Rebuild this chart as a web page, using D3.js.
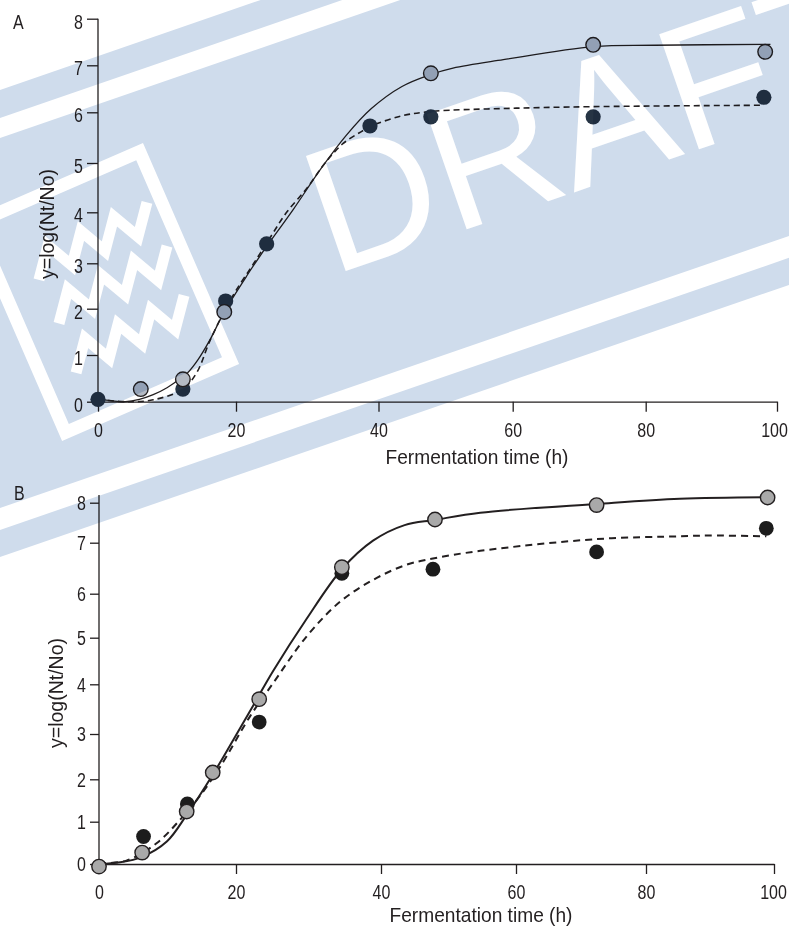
<!DOCTYPE html>
<html>
<head>
<meta charset="utf-8">
<script src="https://cdn.jsdelivr.net/npm/d3@7"></script>
<style>
  body { margin: 0; background: #fff; }
  svg text { font-family: 'Liberation Sans', Arial, sans-serif; fill: #231f20; }
</style>
</head>
<body>
<svg id="fig" width="789" height="928"></svg>
<script>
// ---- tick values (shared by both panels)
const timeTicks = [0, 20, 40, 60, 80, 100];
const logTicks  = [0, 1, 2, 3, 4, 5, 6, 7, 8];

// ---- panel A: measured points (h, log Nt/No)
const aGrayTime = [6.2, 12.3, 18.3, 47.8, 72.1, 98.2];
const aGrayLog  = [0.27, 0.48, 1.93, 6.83, 7.44, 7.29];
const aDarkTime = [0, 12.3, 18.5, 24.3, 38.8, 47.8, 72.1, 98];
const aDarkLog  = [0.05, 0.27, 2.17, 3.38, 5.73, 5.91, 5.91, 6.32];

// panel A: fitted curves
const aSolidTime = [0, 2, 4, 6, 8, 10, 12, 13, 14.5, 16.2, 18.3, 21.5, 24.3, 28, 32, 35.5, 39, 43.5, 47.7, 51.1, 58.6, 72.2, 81.3, 99];
const aSolidLog  = [0.06, 0.02, 0.0, 0.05, 0.15, 0.3, 0.5, 0.62, 0.9, 1.32, 1.93, 2.72, 3.33, 4.05, 4.9, 5.55, 6.08, 6.55, 6.8, 6.94, 7.12, 7.4, 7.43, 7.45];
const aDashTime  = [0, 4, 8, 12.3, 14.3, 16.2, 18.5, 20, 22.5, 25, 27, 30, 32.5, 35, 37.6, 39, 43.5, 48, 58.6, 72, 98];
const aDashLog   = [0.05, 0.0, 0.04, 0.27, 0.62, 1.3, 2.0, 2.4, 3.0, 3.55, 3.98, 4.5, 5.0, 5.38, 5.62, 5.73, 5.93, 6.02, 6.08, 6.12, 6.15];

// ---- panel B: measured points
const bGrayTime = [0, 6.3, 12.8, 16.6, 23.2, 34.6, 48, 72.4, 99];
const bGrayLog  = [-0.06, 0.27, 1.24, 2.15, 3.7, 6.52, 7.58, 7.94, 8.13];
const bDarkTime = [6.5, 12.9, 23.2, 34.6, 47.7, 72.4, 98.8];
const bDarkLog  = [0.65, 1.42, 3.24, 6.4, 6.48, 6.82, 7.36];

// panel B: fitted curves
const bSolidTime = [0, 3.1, 6.3, 9.9, 12.8, 16.6, 19.6, 22.4, 25.1, 29.7, 34.6, 38.9, 43.5, 48, 54.7, 72.4, 85.3, 99];
const bSolidLog  = [0.0, 0.04, 0.17, 0.53, 1.16, 2.1, 2.87, 3.58, 4.28, 5.42, 6.48, 7.05, 7.44, 7.57, 7.75, 7.97, 8.1, 8.14];
const bDashTime  = [0, 4, 8.4, 11.8, 14.7, 17.7, 22, 25.1, 29.7, 34.3, 38.9, 43.6, 47.7, 54.7, 72.4, 85.3, 90, 98.8];
const bDashLog   = [0.02, 0.08, 0.49, 1.04, 1.6, 2.28, 3.37, 4.02, 5.02, 5.81, 6.27, 6.56, 6.69, 6.84, 7.09, 7.16, 7.18, 7.16];

const xTitle = "Fermentation time (h)";
const yTitle = "y=log(Nt/No)";

// ---- layout: pixel positions of the printed ticks (the original axes are not evenly spaced)
const panels = [
  {
    label: "A", labelPos: [13, 29],
    xPix: [98, 236, 378.5, 512.7, 645.7, 777],
    yPix: [401.7, 355, 308.7, 263.3, 212.3, 163, 112.3, 65.3, 18.7],
    yTop: 18.7, yTickSize: 11, yLabelDy: "0.48em", lastDx: -3,
    xTitlePos: [477, 464], yTitlePos: [54, 224],
    gray: [aGrayTime, aGrayLog], dark: [aDarkTime, aDarkLog],
    solid: [aSolidTime, aSolidLog], dash: [aDashTime, aDashLog],
    solidW: 1.3, dashW: 1.6, dashArr: "6,4",
    grayFill: "#b4bac4", darkFill: "#263444", rGray: 7.3, rDark: 7.6
  },
  {
    label: "B", labelPos: [14, 500],
    xPix: [99, 236, 381, 516, 646, 774],
    yPix: [864, 821.7, 779.3, 734, 684.3, 637.7, 593.7, 542.7, 502.7],
    yTop: 495, yTickSize: 9, yLabelDy: "0.34em", lastDx: -1,
    xTitlePos: [481, 922], yTitlePos: [63, 693],
    gray: [bGrayTime, bGrayLog], dark: [bDarkTime, bDarkLog],
    solid: [bSolidTime, bSolidLog], dash: [bDashTime, bDashLog],
    solidW: 2, dashW: 2, dashArr: "7,5",
    grayFill: "#a9a9a9", darkFill: "#1c1c1c", rGray: 7.2, rDark: 7.4
  }
];

const svg = d3.select("#fig");
const ink = "#231f20";
const narrow = 0.8;   // the print uses a condensed face

function zipPts(pair) {
  return pair[0].map((t, i) => ({ t: t, v: pair[1][i] }));
}

function drawPanel(p) {
  const g = svg.append("g");
  const x = d3.scaleLinear().domain(timeTicks).range(p.xPix);
  const y = d3.scaleLinear().domain(logTicks).range(p.yPix);

  // x axis
  const xAxis = g.append("g")
    .attr("transform", `translate(0,${y(0)})`)
    .call(d3.axisBottom(x).tickValues(timeTicks).tickSize(10).tickPadding(11).tickSizeOuter(0));
  xAxis.select(".domain").attr("stroke", ink).attr("stroke-width", 1.3);
  xAxis.selectAll(".tick line").attr("stroke", ink).attr("stroke-width", 1.3);
  xAxis.selectAll(".tick text")
    .style("font-size", "20px").attr("fill", ink)
    .attr("x", d => d === 100 ? p.lastDx / narrow : 0)
    .attr("transform", `scale(${narrow},1)`);

  // y axis
  const yAxis = g.append("g")
    .attr("transform", `translate(${x(0)},0)`)
    .call(d3.axisLeft(y).tickValues(logTicks).tickSize(p.yTickSize).tickPadding(4).tickSizeOuter(0));
  yAxis.select(".domain").attr("d", `M0,${p.yTop}V${y(0)}`)
    .attr("stroke", ink).attr("stroke-width", 1.3);
  yAxis.selectAll(".tick line").attr("stroke", ink).attr("stroke-width", 1.3);
  yAxis.selectAll(".tick text")
    .style("font-size", "20px").attr("dy", p.yLabelDy).attr("fill", ink)
    .attr("x", -(p.yTickSize + 4) / narrow)
    .attr("transform", `scale(${narrow},1)`);

  // titles
  g.append("text")
    .attr("x", p.xTitlePos[0]).attr("y", p.xTitlePos[1])
    .attr("text-anchor", "middle")
    .attr("textLength", 183).attr("lengthAdjust", "spacingAndGlyphs")
    .style("font-size", "21px")
    .text(xTitle);
  g.append("text")
    .attr("transform", `translate(${p.yTitlePos[0]},${p.yTitlePos[1]}) rotate(-90)`)
    .attr("text-anchor", "middle")
    .attr("textLength", 110).attr("lengthAdjust", "spacingAndGlyphs")
    .style("font-size", "21px")
    .text(yTitle);
  g.append("text")
    .attr("x", p.labelPos[0]).attr("y", p.labelPos[1])
    .attr("transform", `translate(${p.labelPos[0] * (1 - narrow)},0) scale(${narrow},1)`)
    .attr("x", p.labelPos[0])
    .style("font-size", "20px")
    .text(p.label);

  // fitted curves
  const line = d3.line().x(d => x(d.t)).y(d => y(d.v)).curve(d3.curveCatmullRom.alpha(0.5));
  g.append("path")
    .datum(zipPts(p.solid))
    .attr("fill", "none").attr("stroke", ink)
    .attr("stroke-width", p.solidW)
    .attr("d", line);
  g.append("path")
    .datum(zipPts(p.dash))
    .attr("fill", "none").attr("stroke", ink)
    .attr("stroke-width", p.dashW)
    .attr("stroke-dasharray", p.dashArr)
    .attr("d", line);

  // measured points
  const drawDots = (pair, fill, r, outlined) => {
    g.append("g").selectAll("circle")
      .data(zipPts(pair))
      .enter()
      .append("circle")
        .attr("cx", d => x(d.t))
        .attr("cy", d => y(d.v))
        .attr("r", r)
        .attr("fill", fill)
        .attr("stroke", outlined ? ink : "none")
        .attr("stroke-width", 1.4);
  };
  drawDots(p.dark, p.darkFill, p.rDark, false);
  drawDots(p.gray, p.grayFill, p.rGray, true);
}

panels.forEach(drawPanel);

// ---- "DRAFT" watermark band laid over the top of the figure (multiplied, like a print overlay)
const wmBlue = "#cfdcec";
const wm = svg.append("g").style("mix-blend-mode", "multiply");

// band, rotated about -19 degrees
const band = wm.append("g").attr("transform", "rotate(-19.03)");
band.append("rect").attr("x", -600).attr("y", 85).attr("width", 2200).attr("height", 441.6).attr("fill", wmBlue);
band.append("rect").attr("x", -600).attr("y", 111.6).attr("width", 2200).attr("height", 18.9).attr("fill", "#fff");
band.append("rect").attr("x", -600).attr("y", 480.3).attr("width", 2200).attr("height", 20.7).attr("fill", "#fff");
band.append("text")
  .attr("x", 224).attr("y", 369)
  .style("font-size", "177px")
  .style("fill", "#fff")
  .text("DRAFT");

// logo: tilted frame with three zigzags
const logo = wm.append("g").attr("transform", "translate(-34,220) rotate(-23.5)");
logo.append("rect")
  .attr("x", 6.5).attr("y", 6.5).attr("width", 180).attr("height", 228)
  .attr("fill", "none").attr("stroke", "#fff").attr("stroke-width", 13);
const zigStarts = [[43, 70], [44, 118], [40, 170]];
zigStarts.forEach(s => {
  const pts = [];
  for (let k = 0; k < 4; k++) {
    pts.push([s[0] + k * 36, s[1] + 14]);
    pts.push([s[0] + k * 36 + 22, s[1] - 14]);
  }
  logo.append("path")
    .attr("d", d3.line()(pts))
    .attr("fill", "none").attr("stroke", "#fff")
    .attr("stroke-width", 11).attr("stroke-linejoin", "miter");
});
</script>
</body>
</html>
